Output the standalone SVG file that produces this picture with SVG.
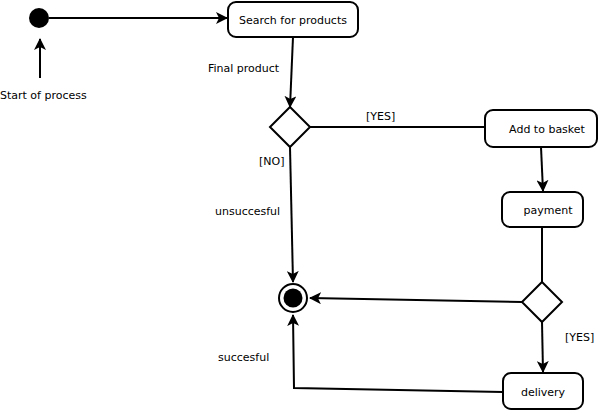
<svg xmlns="http://www.w3.org/2000/svg" width="598" height="411" viewBox="0 0 598 411">
<style>
.box{fill:#fff;stroke:#000;stroke-width:2}
.ln{fill:none;stroke:#000;stroke-width:2}
text{font-family:"DejaVu Sans",sans-serif;font-size:11px;fill:#000}
.c{text-anchor:middle}
</style>
<defs>
<marker id="ah" viewBox="0 0 12 12" refX="11" refY="6" markerWidth="12" markerHeight="12" markerUnits="userSpaceOnUse" orient="auto">
<path d="M0,0 L12,6 L0,12 L3,6 Z" fill="#000"/>
</marker>
</defs>
<rect width="598" height="411" fill="#fff"/>
<g id="connectors">
<line class="ln" x1="49" y1="18" x2="227" y2="18" marker-end="url(#ah)"/>
<line class="ln" x1="40" y1="78" x2="40" y2="39" marker-end="url(#ah)"/>
<line class="ln" x1="293" y1="37" x2="290" y2="107" marker-end="url(#ah)"/>
<line class="ln" x1="310" y1="127" x2="485" y2="127"/>
<line class="ln" x1="541" y1="147" x2="543" y2="191" marker-end="url(#ah)"/>
<line class="ln" x1="542" y1="227" x2="542" y2="282"/>
<line class="ln" x1="522" y1="302" x2="310" y2="298" marker-end="url(#ah)"/>
<line class="ln" x1="290" y1="147" x2="293" y2="282" marker-end="url(#ah)"/>
<line class="ln" x1="542" y1="322" x2="543" y2="372" marker-end="url(#ah)"/>
<polyline class="ln" points="503,392 294,388 293,315" marker-end="url(#ah)"/>
</g>
<g id="start">
<circle cx="39" cy="18" r="10" fill="#000"/>
</g>
<g id="start-label">
<text x="0" y="99">Start of process</text>
</g>
<g id="search">
<rect class="box" x="228" y="2" width="130" height="35" rx="8"/>
<text class="c" x="293" y="24">Search for products</text>
</g>
<text x="208" y="72">Final product</text>
<g id="decision1">
<polygon class="box" points="290,107 310,127 290,147 270,127"/>
</g>
<text x="366" y="120">[YES]</text>
<text x="259" y="165">[NO]</text>
<text x="215" y="215">unsuccesful</text>
<g id="basket">
<rect class="box" x="485" y="110" width="112" height="37" rx="8"/>
<text class="c" x="547" y="133">Add to basket</text>
</g>
<g id="payment">
<rect class="box" x="502" y="192" width="81" height="35" rx="8"/>
<text class="c" x="548" y="214">payment</text>
</g>
<g id="decision2">
<polygon class="box" points="542,282 562,302 542,322 522,302"/>
</g>
<text x="565" y="341">[YES]</text>
<text x="218" y="361">succesful</text>
<g id="end">
<circle cx="293" cy="298" r="14" fill="#fff" stroke="#000" stroke-width="2"/>
<circle cx="293" cy="298" r="9.5" fill="#000"/>
</g>
<g id="delivery">
<rect class="box" x="503" y="373" width="80" height="36" rx="8"/>
<text class="c" x="543" y="396">delivery</text>
</g>
</svg>
